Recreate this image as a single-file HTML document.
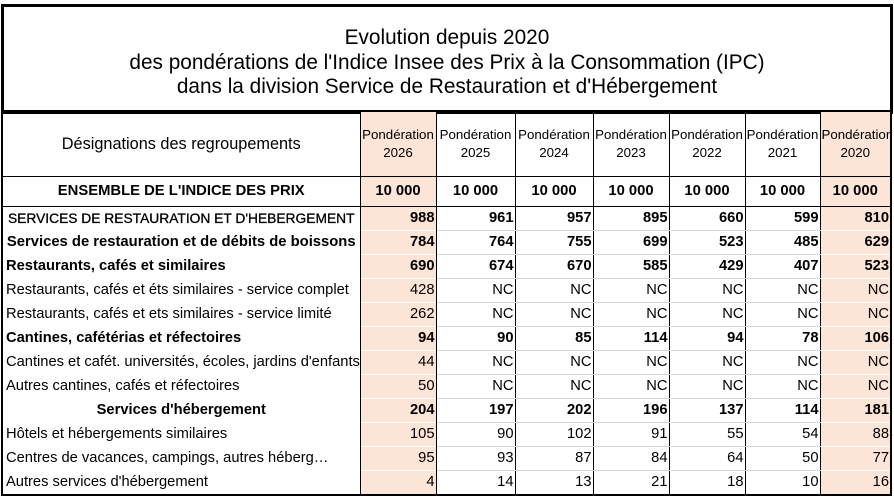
<!DOCTYPE html>
<html><head><meta charset="utf-8"><style>
body{margin:0;width:894px;height:500px;background:#fff;position:relative;overflow:hidden;font-family:"Liberation Sans",Arial,sans-serif;color:#000}
#title{position:absolute;left:1px;top:4px;width:886px;height:104px;border:3px solid #000;text-align:center;font-size:20.8px;line-height:24.5px}
#title div:first-child{margin-top:19px}
table{position:absolute;left:1px;top:110px;border-collapse:collapse;table-layout:fixed;width:891px;border:2px solid #000}
td{padding:0 1px;font-size:14.7px;white-space:nowrap;overflow:hidden;height:23px;line-height:23px;text-align:right;border-left:1px solid #000;border-right:1px solid #000}
td.l{text-align:left;padding-left:3px}
td.c{text-align:center}
tr.h td{height:64px;text-align:center;font-size:13.3px;line-height:18px;border-bottom:1px solid #000}
tr.e td{height:29px;text-align:center;font-weight:bold;border-bottom:1px solid #000;font-size:14.8px}
tr.d td{border-bottom:1px solid transparent}
tr.d td.w{border-bottom:1px solid #d4d4d4}
.p{background:#fce4d6}
.b td{font-weight:bold}
</style></head><body>
<div id="title"><div>Evolution depuis 2020</div><div>des pondérations de l'Indice Insee des Prix à la Consommation (IPC)</div><div>dans la division Service de Restauration et d'Hébergement</div></div>
<table>
<colgroup><col style="width:358px"><col style="width:76px"><col style="width:79px"><col style="width:78px"><col style="width:76px"><col style="width:76px"><col style="width:75px"><col style="width:71px"></colgroup>
<tr class="h"><td style="font-size:16.3px">Désignations des regroupements</td><td class="p">Pondération<br>2026</td><td>Pondération<br>2025</td><td>Pondération<br>2024</td><td>Pondération<br>2023</td><td>Pondération<br>2022</td><td>Pondération<br>2021</td><td class="p">Pondération<br>2020</td></tr>
<tr class="e"><td>ENSEMBLE DE L'INDICE DES PRIX</td><td class="p">10 000</td><td>10 000</td><td>10 000</td><td>10 000</td><td>10 000</td><td>10 000</td><td class="p">10 000</td></tr>
<tr class="d b"><td class="c" style="font-weight:normal;font-size:13.8px;-webkit-text-stroke:0.3px #000">SERVICES DE RESTAURATION ET D'HEBERGEMENT</td><td class="p">988</td><td class="w">961</td><td class="w">957</td><td class="w">895</td><td class="w">660</td><td class="w">599</td><td class="p">810</td></tr>
<tr class="d b"><td class="c" style="font-size:14.8px">Services de restauration et de débits de boissons</td><td class="p">784</td><td class="w">764</td><td class="w">755</td><td class="w">699</td><td class="w">523</td><td class="w">485</td><td class="p">629</td></tr>
<tr class="d b"><td class="l">Restaurants, cafés et similaires</td><td class="p">690</td><td class="w">674</td><td class="w">670</td><td class="w">585</td><td class="w">429</td><td class="w">407</td><td class="p">523</td></tr>
<tr class="d"><td class="l">Restaurants, cafés et éts similaires - service complet</td><td class="p">428</td><td class="w">NC</td><td class="w">NC</td><td class="w">NC</td><td class="w">NC</td><td class="w">NC</td><td class="p">NC</td></tr>
<tr class="d"><td class="l">Restaurants, cafés et ets similaires - service limité</td><td class="p">262</td><td class="w">NC</td><td class="w">NC</td><td class="w">NC</td><td class="w">NC</td><td class="w">NC</td><td class="p">NC</td></tr>
<tr class="d b"><td class="l">Cantines, cafétérias et réfectoires</td><td class="p">94</td><td class="w">90</td><td class="w">85</td><td class="w">114</td><td class="w">94</td><td class="w">78</td><td class="p">106</td></tr>
<tr class="d"><td class="l">Cantines et cafét. universités, écoles, jardins d'enfants</td><td class="p">44</td><td class="w">NC</td><td class="w">NC</td><td class="w">NC</td><td class="w">NC</td><td class="w">NC</td><td class="p">NC</td></tr>
<tr class="d"><td class="l">Autres cantines, cafés et réfectoires</td><td class="p">50</td><td class="w">NC</td><td class="w">NC</td><td class="w">NC</td><td class="w">NC</td><td class="w">NC</td><td class="p">NC</td></tr>
<tr class="d b"><td class="c">Services d'hébergement</td><td class="p">204</td><td class="w">197</td><td class="w">202</td><td class="w">196</td><td class="w">137</td><td class="w">114</td><td class="p">181</td></tr>
<tr class="d"><td class="l">Hôtels et hébergements similaires</td><td class="p">105</td><td class="w">90</td><td class="w">102</td><td class="w">91</td><td class="w">55</td><td class="w">54</td><td class="p">88</td></tr>
<tr class="d"><td class="l">Centres de vacances, campings, autres héberg…</td><td class="p">95</td><td class="w">93</td><td class="w">87</td><td class="w">84</td><td class="w">64</td><td class="w">50</td><td class="p">77</td></tr>
<tr class="d"><td class="l">Autres services d'hébergement</td><td class="p">4</td><td>14</td><td>13</td><td>21</td><td>18</td><td>10</td><td class="p">16</td></tr>
</table>
</body></html>
